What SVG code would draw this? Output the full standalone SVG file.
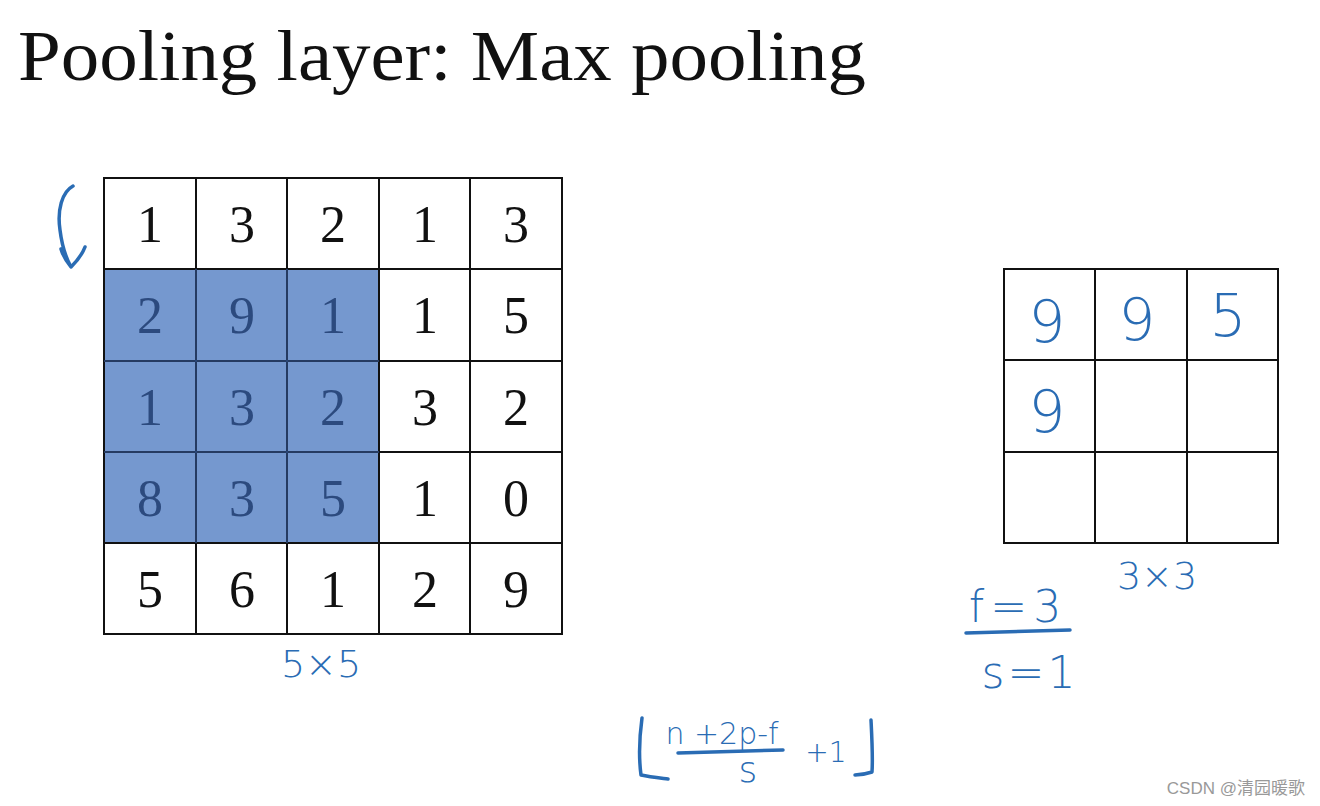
<svg xmlns="http://www.w3.org/2000/svg" width="1320" height="806" viewBox="0 0 1320 806">
<style>
.grid{fill:none;stroke:#111;stroke-width:2}
.num{font-family:"Liberation Serif","DejaVu Serif",serif;font-size:52px;fill:#111;text-anchor:middle}
.num.in{fill:#2c4a7e}
.hand{font-family:"DejaVu Sans","Liberation Sans",sans-serif;fill:#2a6cb4;font-weight:300}
.ink{fill:none;stroke:#2a6cb4;stroke-width:3.5;stroke-linecap:round;stroke-linejoin:round}
</style>
<rect width="1320" height="806" fill="#fff"/>
<text x="18" y="80" font-family="Liberation Serif,DejaVu Serif,serif" font-size="72" fill="#111" textLength="848" lengthAdjust="spacingAndGlyphs">Pooling layer: Max pooling</text>

<g id="input-grid">
<rect x="104" y="269" width="275" height="274" fill="#7598cf"/>
<rect class="grid" x="104" y="178" width="458" height="456"/>
<path class="grid" d="M196 178V634M287 178V634M379 178V634M470 178V634M104 269H562M104 361H562M104 452H562M104 543H562"/>
<path d="M196 269V543M287 269V543M104 361H379M104 452H379" stroke="#2c4a7e" stroke-width="1.5" fill="none"/>
<g class="num">
<text x="150" y="242">1</text><text x="242" y="242">3</text><text x="333" y="242">2</text><text x="425" y="242">1</text><text x="516" y="242">3</text>
<text x="150" y="333" class="num in">2</text><text x="242" y="333" class="num in">9</text><text x="333" y="333" class="num in">1</text><text x="425" y="333">1</text><text x="516" y="333">5</text>
<text x="150" y="425" class="num in">1</text><text x="242" y="425" class="num in">3</text><text x="333" y="425" class="num in">2</text><text x="425" y="425">3</text><text x="516" y="425">2</text>
<text x="150" y="516" class="num in">8</text><text x="242" y="516" class="num in">3</text><text x="333" y="516" class="num in">5</text><text x="425" y="516">1</text><text x="516" y="516">0</text>
<text x="150" y="607">5</text><text x="242" y="607">6</text><text x="333" y="607">1</text><text x="425" y="607">2</text><text x="516" y="607">9</text>
</g>
</g>

<g id="output-grid">
<rect class="grid" x="1004" y="269" width="274" height="274"/>
<path class="grid" d="M1095 269V543M1187 269V543M1004 360H1278M1004 452H1278"/>
<g class="hand" font-size="58" text-anchor="middle">
<text x="1047" y="342">9</text><text x="1137" y="340">9</text><text x="1228" y="336">5</text>
<text x="1047" y="432">9</text>
</g>
</g>

<g id="annotations">
<path class="ink" d="M73 186C62 192 57 210 60 230C62 246 66 258 71 267C76 262 82 255 85 247M71 267C67 262 63 256 61 249"/>
<text class="hand" x="321" y="677" font-size="38" text-anchor="middle">5×5</text>
<text class="hand" x="1157" y="589" font-size="38" text-anchor="middle">3×3</text>
<text class="hand" x="1018" y="622" font-size="44" text-anchor="middle" letter-spacing="6">f=3</text>
<path class="ink" d="M966 633L1070 630"/>
<text class="hand" x="1030" y="688" font-size="44" text-anchor="middle" letter-spacing="3">s=1</text>
<path class="ink" d="M642 718C639 740 639 760 641 775C650 777 660 778 668 779"/>
<text class="hand" x="722" y="744" font-size="30" text-anchor="middle">n +2p-f</text>
<path class="ink" d="M678 753L783 750"/>
<text class="hand" x="748" y="782" font-size="36" text-anchor="middle">s</text>
<text class="hand" x="826" y="762" font-size="28" text-anchor="middle">+1</text>
<path class="ink" d="M871 720C872 740 873 758 872 772C866 774 860 775 855 775"/>
</g>

<text x="1305" y="794" font-family="Liberation Sans,Noto Sans CJK SC,sans-serif" font-size="17" fill="#999" text-anchor="end">CSDN @清园暖歌</text>
</svg>
